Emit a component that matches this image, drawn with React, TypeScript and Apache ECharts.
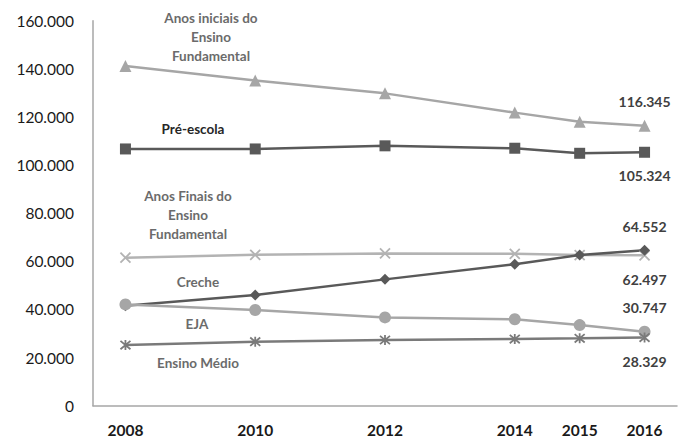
import React, { useEffect, useRef } from "react";
import * as echarts from "echarts";

const years = [2008, 2010, 2012, 2014, 2015, 2016];
const tickYears = [2008, 2010, 2012, 2014, 2015, 2016];
const anosIniciais = [141200, 135100, 129800, 121800, 118000, 116345];
const preEscola = [106700, 106700, 108000, 107000, 104900, 105324];
const anosFinais = [61500, 62700, 63300, 63100, 62600, 62497];
const creche = [41500, 46000, 52500, 58800, 62600, 64552];
const eja = [42100, 39800, 36700, 35900, 33500, 30747];
const ensinoMedio = [25200, 26600, 27300, 27700, 28000, 28329];

const fmt = (v: number) => String(Math.round(v)).replace(/\B(?=(\d{3})+(?!\d))/g, ".");

const FONT = "Lato";

const xPath = "path://M0,0L10,10M10,0L0,10";
const starPath = "path://M0,0L10,10M10,0L0,10M5,-1L5,11";

function mkSeries(
  name: string,
  values: number[],
  color: string,
  symbol: string,
  symbolSize: number,
  labelPos: "top" | "bottom",
  stroked: boolean
) {
  return {
    name,
    type: "line",
    data: values.map((v, i) => {
      const item: any = { value: [years[i], v] };
      if (i === values.length - 1) {
        item.label = {
          show: true,
          position: labelPos,
          distance: 11,
          formatter: () => fmt(v),
          fontFamily: FONT,
          fontWeight: "bold",
          fontSize: 14,
          color: "#404040",
        };
      }
      return item;
    }),
    symbol,
    symbolSize,
    showSymbol: true,
    lineStyle: { color, width: 2.5 },
    itemStyle: stroked
      ? { color: "rgba(0,0,0,0)", borderColor: color, borderWidth: 1.8 }
      : { color },
    label: { show: false },
    z: 2,
  };
}

export default function App() {
  const ref = useRef<HTMLDivElement>(null);
  useEffect(() => {
    if (!ref.current) return;
    const chart = echarts.init(ref.current, null, { renderer: "svg" });
    const nameText = (x: number, y: number, text: string, color: string) => ({
      type: "text",
      x,
      y,
      style: {
        text,
        x: 0,
        y: 0,
        align: "center",
        verticalAlign: "middle",
        fontFamily: FONT,
        fontWeight: "bold",
        fontSize: 13.5,
        lineHeight: 19,
        fill: color,
      },
    });
    chart.setOption({
      animation: false,
      backgroundColor: "#ffffff",
      grid: {
        left: 93,
        right: 11,
        top: 20.7,
        bottom: 33.3,
        containLabel: false,
        outerBoundsMode: "none",
      },
      xAxis: {
        type: "value",
        min: 2007.5,
        max: 2016.5,
        axisLine: { show: true, lineStyle: { color: "#a6a6a6", width: 1.5 } },
        axisTick: { show: false },
        splitLine: { show: false },
        axisLabel: {
          customValues: tickYears,
          formatter: (v: number) => String(v),
          fontFamily: FONT,
          fontWeight: "bold",
          fontSize: 15.5,
          color: "#1a1a1a",
          margin: 16,
        },
      },
      yAxis: {
        type: "value",
        min: 0,
        max: 160000,
        interval: 20000,
        axisLine: { show: true, lineStyle: { color: "#a6a6a6", width: 1.5 } },
        axisTick: { show: false },
        splitLine: { show: false },
        axisLabel: {
          formatter: (v: number) => fmt(v),
          fontFamily: FONT,
          fontSize: 15.5,
          color: "#1a1a1a",
          margin: 19,
        },
      },
      series: [
        mkSeries("Anos iniciais do Ensino Fundamental", anosIniciais, "#a6a6a6", "triangle", 12, "top", false),
        mkSeries("Pré-escola", preEscola, "#595959", "rect", 11, "bottom", false),
        mkSeries("Anos Finais do Ensino Fundamental", anosFinais, "#b3b3b3", xPath, 10, "bottom", true),
        mkSeries("Creche", creche, "#595959", "diamond", 11, "top", false),
        mkSeries("EJA", eja, "#a6a6a6", "circle", 12, "top", false),
        mkSeries("Ensino Médio", ensinoMedio, "#7a7a7a", starPath, 10, "bottom", true),
      ],
      graphic: [
        nameText(211, 37, "Anos iniciais do\nEnsino\nFundamental", "#6b6b6b"),
        nameText(193, 129, "Pré-escola", "#262626"),
        nameText(188, 215, "Anos Finais do\nEnsino\nFundamental", "#6b6b6b"),
        nameText(198, 282, "Creche", "#6b6b6b"),
        nameText(197, 324, "EJA", "#6b6b6b"),
        nameText(198, 363, "Ensino Médio", "#6b6b6b"),
      ],
    });
    return () => chart.dispose();
  }, []);
  return (
    <div
      ref={ref}
      style={{ position: "fixed", left: 0, top: 0, width: 688, height: 439 }}
    />
  );
}
